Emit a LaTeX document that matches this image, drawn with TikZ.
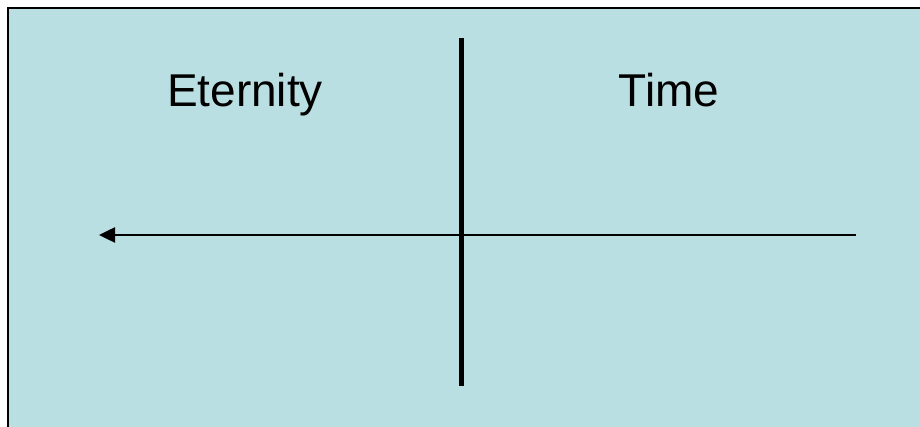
\documentclass[tikz,border=0pt]{standalone}
\usepackage{fontspec}
\setmainfont{Liberation Sans}
\usetikzlibrary{arrows.meta}
\definecolor{panelfill}{RGB}{186,223,227}
\begin{document}
\begin{tikzpicture}[x=1pt,y=-1pt,
  label/.style={font=\fontsize{46}{50}\selectfont, anchor=base, inner sep=0pt},
  divider/.style={line width=5pt},
  axis/.style={line width=2.5pt, -{Triangle[length=16pt,width=15pt]}}]
\useasboundingbox (0,0) rectangle (920,427);
\fill[panelfill] (8,8) rectangle (925,432);
\draw[line width=2pt] (8,432) -- (8,8) -- (925,8);
\node[label] (eternity) at (245,107) {Eternity};
\node[label] (time) at (669,107) {Time};
\coordinate (vtop) at (461,38);
\coordinate (vbot) at (461,386);
\coordinate (hright) at (856,235);
\coordinate (hleft) at (99,235);
\draw[divider] (vtop) -- (vbot);
\draw[axis] (hright) -- (hleft);
\end{tikzpicture}
\end{document}
